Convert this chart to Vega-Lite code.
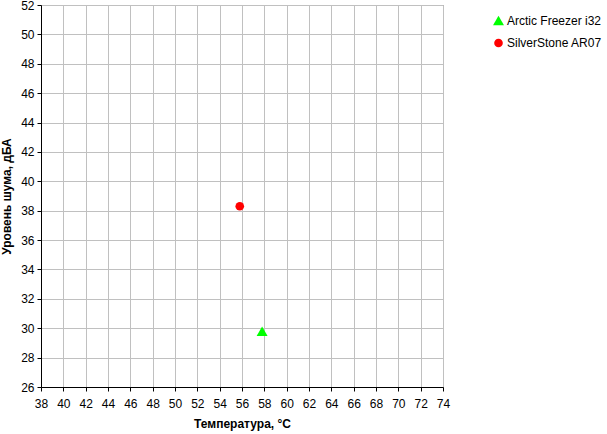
{
  "$schema": "https://vega.github.io/schema/vega-lite/v6.json",
  "autosize": "none",
  "width": 402,
  "height": 382,
  "padding": {"left": 41, "top": 5, "right": 164, "bottom": 47},
  "background": "white",
  "data": {"values": [
    {"cooler": "Arctic Freezer i32", "temp": 57.8, "noise": 29.8},
    {"cooler": "SilverStone AR07", "temp": 55.8, "noise": 38.3}
  ]},
  "mark": {"type": "point", "filled": true, "opacity": 1},
  "encoding": {
    "x": {"field": "temp", "type": "quantitative", "scale": {"domain": [38, 74], "nice": false, "zero": false},
      "axis": {"title": "Температура, °C", "values": [38,40,42,44,46,48,50,52,54,56,58,60,62,64,66,68,70,72,74], "labelFlush": false, "labelBound": false, "labelOverlap": false}},
    "y": {"field": "noise", "type": "quantitative", "scale": {"domain": [26, 52], "nice": false, "zero": false},
      "axis": {"title": "Уровень шума, дБА", "values": [26,28,30,32,34,36,38,40,42,44,46,48,50,52], "labelFlush": false, "labelBound": false, "labelOverlap": false}},
    "color": {"field": "cooler", "type": "nominal", "scale": {"domain": ["Arctic Freezer i32", "SilverStone AR07"], "range": ["#00ff00", "#ff0000"]},
      "legend": {"title": null, "orient": "none", "legendX": 451, "legendY": 9, "labelFont": "Liberation Sans", "labelFontSize": 12, "labelColor": "black", "rowPadding": 10, "symbolSize": 70, "labelOffset": 2}},
    "shape": {"field": "cooler", "type": "nominal", "scale": {"domain": ["Arctic Freezer i32", "SilverStone AR07"], "range": ["triangle-up", "circle"]}},
    "size": {"field": "cooler", "type": "nominal", "scale": {"domain": ["Arctic Freezer i32", "SilverStone AR07"], "range": [120, 75]}, "legend": null}
  },
  "config": {
    "view": {"stroke": "#808080", "strokeWidth": 1},
    "axis": {
      "domainColor": "black",
      "tickColor": "black",
      "tickSize": 4,
      "gridColor": "#c0c0c0",
      "gridOpacity": 1,
      "labelFont": "Liberation Sans",
      "labelFontSize": 12,
      "labelColor": "black",
      "titleFont": "Liberation Sans",
      "titleFontSize": 12,
      "titleFontWeight": "bold",
      "titleColor": "black"
    },
    "axisX": {"labelPadding": 7, "titlePadding": 9},
    "axisY": {"labelPadding": 3, "titlePadding": 7}
  }
}
